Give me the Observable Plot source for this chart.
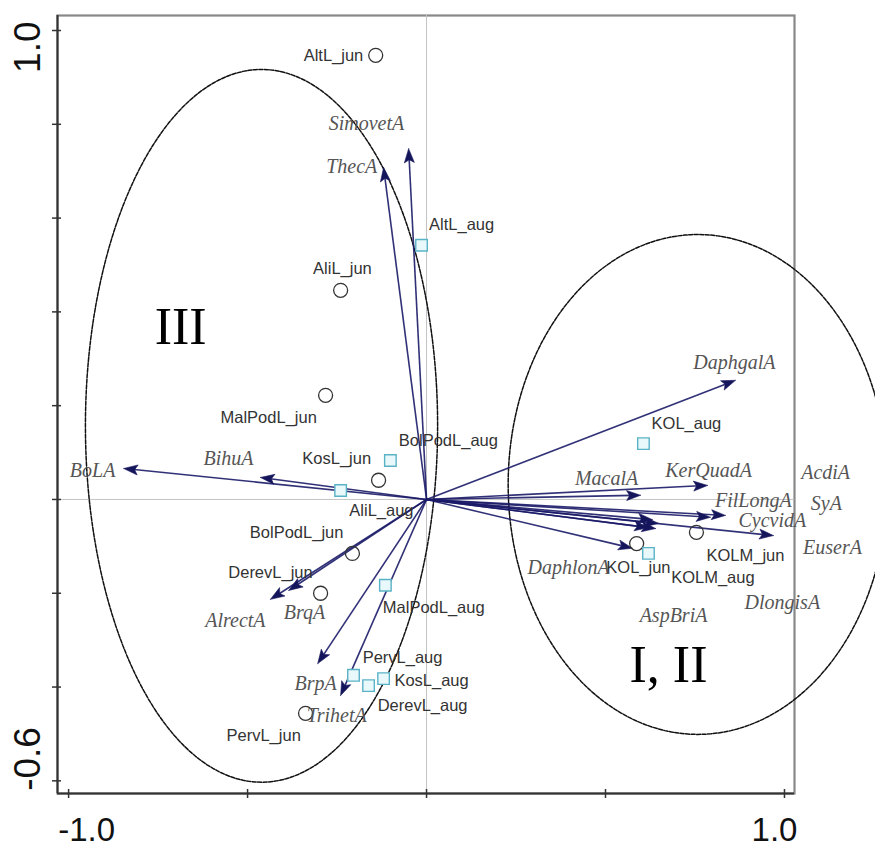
<!DOCTYPE html>
<html><head><meta charset="utf-8">
<script src="https://cdn.jsdelivr.net/npm/d3@7"></script>
<script src="https://cdn.jsdelivr.net/npm/@observablehq/plot@0.6"></script>
<style>body{margin:0;background:#fff} #chart{width:875px;height:847px}</style>
</head><body><div id="chart"></div>
<script>
// ---- Data ----
const species = ["SimovetA","ThecA","BoLA","BihuA","DaphgalA","KerQuadA","MacalA","FilLongA","SyA","CycvidA","AcdiA","AspBriA","DlongisA","EuserA","DaphlonA","AlrectA","BrqA","BrpA","TrihetA"];
const speciesX = [-0.050,-0.120,-0.846,-0.464,0.863,0.785,0.598,0.835,0.793,0.648,0.631,0.620,0.640,0.969,0.575,-0.436,-0.385,-0.304,-0.240];
const speciesY = [0.748,0.708,0.066,0.047,0.254,0.030,0.009,-0.034,-0.038,-0.051,-0.043,-0.060,-0.062,-0.077,-0.104,-0.213,-0.194,-0.350,-0.418];
const speciesLabelX = [-0.168,-0.209,-0.933,-0.553,0.860,0.788,0.503,0.913,1.117,0.966,1.115,0.690,0.994,1.134,0.397,-0.534,-0.341,-0.310,-0.251];
const speciesLabelY = [0.802,0.710,0.062,0.087,0.292,0.062,0.045,-0.002,-0.009,-0.045,0.058,-0.247,-0.220,-0.102,-0.145,-0.258,-0.241,-0.392,-0.461];

const junSites = ["AltL_jun","AliL_jun","MalPodL_jun","KosL_jun","BolPodL_jun","DerevL_jun","PervL_jun","KOL_jun","KOLM_jun"];
const junX = [-0.142,-0.240,-0.282,-0.134,-0.207,-0.296,-0.338,0.587,0.754];
const junY = [0.947,0.446,0.222,0.041,-0.115,-0.200,-0.456,-0.094,-0.070];
const junLabelX = [-0.260,-0.235,-0.441,-0.251,-0.363,-0.436,-0.455,0.592,0.891];
const junLabelY = [0.947,0.493,0.175,0.087,-0.070,-0.156,-0.503,-0.145,-0.119];

const augSites = ["AltL_aug","BolPodL_aug","AliL_aug","KOL_aug","KOLM_aug","MalPodL_aug","PervL_aug","KosL_aug","DerevL_aug"];
const augX = [-0.014,-0.101,-0.240,0.606,0.620,-0.115,-0.204,-0.120,-0.162];
const augY = [0.542,0.083,0.019,0.119,-0.115,-0.183,-0.375,-0.382,-0.397];
const augLabelX = [0.098,0.061,-0.126,0.726,0.800,0.020,-0.067,0.014,-0.011];
const augLabelY = [0.586,0.126,-0.023,0.162,-0.166,-0.230,-0.337,-0.386,-0.439];

const groupNames = ["III","I, II"];
const groupX = [-0.687,0.676];
const groupY = [0.367,-0.354];
const groupCx = [-0.461,0.758];
const groupCy = [0.157,0.032];
const groupRx = [0.492,0.530];
const groupRy = [0.760,0.533];

const xTicks = [-1.0,-0.5,0,0.5,1.0];
const yTicks = [-0.6,-0.4,-0.2,0,0.2,0.4,0.6,0.8,1.0];
const xTickLabelsLeft = [-1.0];
const xTickLabelsRight = [1.0];
const yTickLabelsTop = [1.0];
const yTickLabelsBottom = [-0.6];

// ---- Layout ----
const W = 875, H = 847;
const mL = 57, mR = 81, mT = 15, mB = 54;
const xDom = [-1.031, 1.028];
const yDom = [-0.627, 1.032];
const kx = (W - mL - mR) / (xDom[1] - xDom[0]);
const ky = (H - mT - mB) / (yDom[1] - yDom[0]);

// derived tables
const arrows = species.map((s, i) => {
  const px = speciesX[i] * kx, py = speciesY[i] * ky;
  const len = Math.hypot(px, py);
  const ux = px / len, uy = py / len;
  return {s, x: speciesX[i], y: speciesY[i], ux, uy,
    ex: (px - 8 * ux) / kx, ey: (py - 8 * uy) / ky};
});
const heads = [];
arrows.forEach(a => {
  const px = a.x * kx, py = a.y * ky;
  const nx = -a.uy, ny = a.ux;
  const L = 14, w = 5;
  const bx = px - L * a.ux, by = py - L * a.uy;
  [[px, py], [bx + w * nx, by + w * ny], [bx + 3 * a.ux, by + 3 * a.uy], [bx - w * nx, by - w * ny], [px, py]]
    .forEach(([u, v]) => heads.push({s: a.s, x: u / kx, y: v / ky}));
});
const speciesLabels = species.map((s, i) => ({s, x: speciesLabelX[i], y: speciesLabelY[i]}));
const jun = junSites.map((s, i) => ({s, x: junX[i], y: junY[i], lx: junLabelX[i], ly: junLabelY[i]}));
const aug = augSites.map((s, i) => ({s, x: augX[i], y: augY[i], lx: augLabelX[i], ly: augLabelY[i]}));
const ellipsePts = [];
groupNames.forEach((g, i) => {
  for (let a = 0; a <= 360; a += 2) {
    const t = a * Math.PI / 180;
    ellipsePts.push({g, x: groupCx[i] + groupRx[i] * Math.cos(t), y: groupCy[i] + groupRy[i] * Math.sin(t)});
  }
});
const groups = groupNames.map((g, i) => ({g, x: groupX[i], y: groupY[i]}));
const fmt = d => d.toFixed(1);

const navy = "#1b1b68";
const plot = Plot.plot({
  width: W, height: H,
  marginLeft: mL, marginRight: mR, marginTop: mT, marginBottom: mB,
  x: {domain: xDom, axis: null},
  y: {domain: yDom, axis: null},
  style: {background: "#fff", fontFamily: "'Liberation Sans', Arial, sans-serif", overflow: "visible"},
  marks: [
    Plot.frame({stroke: "#888", strokeWidth: 2.2}),
    Plot.ruleX([xDom[0]], {stroke: "#333", strokeWidth: 2}),
    Plot.ruleY([yDom[0]], {stroke: "#333", strokeWidth: 2}),
    Plot.ruleX([0], {stroke: "#c4c4c4", strokeWidth: 1}),
    Plot.ruleY([0], {stroke: "#c4c4c4", strokeWidth: 1}),
    Plot.axisX({ticks: xTicks, tickSize: 9, dy: -4, tickFormat: () => "", stroke: "#333", strokeWidth: 1.5}),
    Plot.axisY({ticks: yTicks, tickSize: 9, dx: 4, tickFormat: () => "", stroke: "#333", strokeWidth: 1.5}),
    Plot.text(xTickLabelsLeft, {x: d => d, frameAnchor: "bottom", lineAnchor: "bottom", dy: 47, dx: 18, text: fmt, fontSize: 33, fill: "#111"}),
    Plot.text(xTickLabelsRight, {x: d => d, frameAnchor: "bottom", lineAnchor: "bottom", dy: 47, dx: -10, text: fmt, fontSize: 33, fill: "#111"}),
    Plot.text(yTickLabelsTop, {y: d => d, frameAnchor: "left", rotate: -90, textAnchor: "end", lineAnchor: "middle", dx: -29, dy: -9, text: fmt, fontSize: 37, fill: "#111"}),
    Plot.text(yTickLabelsBottom, {y: d => d, frameAnchor: "left", rotate: -90, textAnchor: "start", lineAnchor: "middle", dx: -29, dy: 10, text: fmt, fontSize: 37, fill: "#111"}),
    Plot.line(ellipsePts, {x: "x", y: "y", z: "g", stroke: "#111", strokeWidth: 1.5, strokeDasharray: "4 1.5"}),
    Plot.link(arrows, {x1: () => 0, y1: () => 0, x2: "ex", y2: "ey", stroke: navy, strokeWidth: 1.6, strokeOpacity: 0.9}),
    Plot.line(heads, {x: "x", y: "y", z: "s", fill: "#15155c", stroke: "#15155c", strokeWidth: 0.6}),
    Plot.dot(jun, {x: "x", y: "y", r: 7, stroke: "#333", strokeWidth: 1.3, fill: "none"}),
    Plot.dot(aug, {x: "x", y: "y", symbol: "square", r: 6.5, stroke: "#5ab2c6", fill: "#e8f8fb", strokeWidth: 1.4}),
    Plot.text(jun, {x: "lx", y: "ly", text: "s", fontSize: 16.5, fill: "#333"}),
    Plot.text(aug, {x: "lx", y: "ly", text: "s", fontSize: 16.5, fill: "#333"}),
    Plot.text(speciesLabels, {x: "x", y: "y", text: "s", fontSize: 20, fontStyle: "italic", fontFamily: "'Liberation Serif', 'Times New Roman', serif", fill: "#555"}),
    Plot.text(groups, {x: "x", y: "y", text: "g", fontSize: 52, fontFamily: "'Liberation Serif', 'Times New Roman', serif", fill: "#000"})
  ]
});
document.getElementById("chart").appendChild(plot);
</script></body></html>
